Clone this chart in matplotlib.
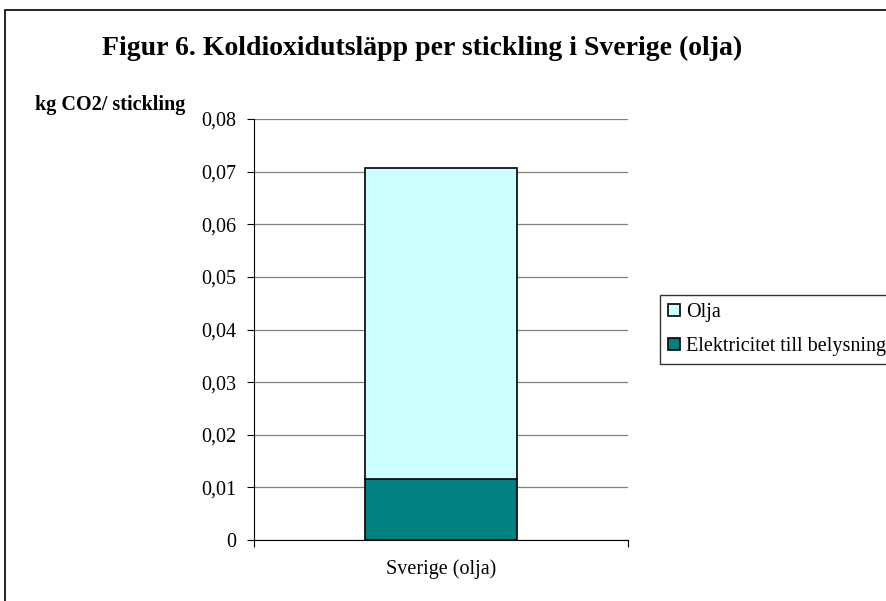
import matplotlib
matplotlib.use("Agg")
import matplotlib.pyplot as plt
import matplotlib.patches as patches

# data
kategorier = ["Sverige (olja)"]
elektricitet = [0.0116]
olja = [0.0591]
y_ticks = [0, 0.01, 0.02, 0.03, 0.04, 0.05, 0.06, 0.07, 0.08]
y_tick_labels = ["0", "0,01", "0,02", "0,03", "0,04", "0,05", "0,06", "0,07", "0,08"]

plt.rcParams['font.family'] = ['Liberation Serif', 'DejaVu Serif']

fig = plt.figure(figsize=(8.86, 6.01), dpi=100)

# ram runt hela diagrammet
ram = patches.Rectangle((5 / 886, -0.01), 1.0, 1 - 10 / 601 + 0.01,
                        transform=fig.transFigure, facecolor='none',
                        edgecolor='black', linewidth=1.2)
fig.patches.append(ram)

ax = fig.add_axes([254 / 886, 61 / 601, 374 / 886, 421 / 601])

x = range(len(kategorier))
ax.bar(x, elektricitet, width=0.405, color='#008080', edgecolor='black',
       linewidth=1.2, label='Elektricitet till belysning', zorder=3)
ax.bar(x, olja, bottom=elektricitet, width=0.405, color='#ccffff',
       edgecolor='black', linewidth=1.2, label='Olja', zorder=3)

ax.set_xlim(-0.5, 0.5)
ax.set_ylim(0, 0.08)
ax.set_yticks(y_ticks)
ax.set_yticklabels(y_tick_labels, fontsize=14.5)
ax.set_xticks([-0.5, 0.5], minor=False)
ax.set_xticklabels(["", ""])
ax.set_xticks(list(x), minor=True)
ax.set_xticklabels(kategorier, minor=True, fontsize=14.5)
ax.tick_params(axis='x', which='minor', length=0, pad=14)
ax.tick_params(axis='x', which='major', length=5, direction='out')
ax.tick_params(axis='y', length=5, direction='out', pad=8)

ax.grid(axis='y', color='#808080', linewidth=0.9, zorder=0)
for s in ['top', 'right']:
    ax.spines[s].set_visible(False)
ax.spines['left'].set_color('black')
ax.spines['bottom'].set_color('black')

fig.text(0.477, 1 - 48 / 601, "Figur 6. Koldioxidutsläpp per stickling i Sverige (olja)",
         ha='center', va='center', fontsize=20, fontweight='bold')
fig.text(35 / 886, 1 - 105 / 601, "kg CO2/ stickling", ha='left', va='center',
         fontsize=14.5, fontweight='bold')

h, l = ax.get_legend_handles_labels()
leg = fig.legend(h[::-1], l[::-1], loc='upper left',
                 bbox_to_anchor=(660 / 886, 1 - 295 / 601), fontsize=14.5,
                 frameon=True, fancybox=False, edgecolor='black',
                 handlelength=0.6, handleheight=0.6, handletextpad=0.3,
                 borderpad=0.4, labelspacing=0.75, borderaxespad=0)
leg.get_frame().set_linewidth(1.0)

fig.savefig("out.png", dpi=100)
